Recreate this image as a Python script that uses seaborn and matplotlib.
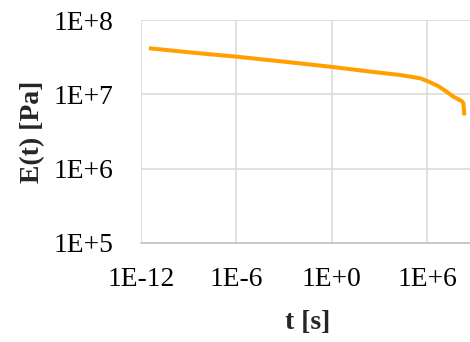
import numpy as np
import pandas as pd
import matplotlib
matplotlib.use("Agg")
import matplotlib.pyplot as plt
import seaborn as sns
from matplotlib.ticker import FixedLocator

# Relaxation modulus E(t) vs time
log_t = [-11.5, -9.0, -6.0, -3.0, 0.0, 2.42, 4.3, 5.57, 6.0, 6.69, 7.23, 7.64, 8.17, 8.27, 8.33]
modulus = [4.17e7, 3.68e7, 3.21e7, 2.75e7, 2.34e7, 2.02e7, 1.82e7, 1.64e7, 1.51e7,
           1.29e7, 1.08e7, 9.3e6, 8.1e6, 7.6e6, 5.2e6]
x_ticks = [1e-12, 1e-6, 1e0, 1e6]
x_tick_labels = ["1E-12", "1E-6", "1E+0", "1E+6"]
y_ticks = [1e5, 1e6, 1e7, 1e8]
y_tick_labels = ["1E+5", "1E+6", "1E+7", "1E+8"]

df = pd.DataFrame({"t": np.power(10.0, log_t), "E": modulus})

sns.set_theme(style="white")
plt.rcParams["font.family"] = ["Liberation Serif", "DejaVu Serif"]

fig = plt.figure(figsize=(4.70, 3.42), dpi=100)
W, H = 470, 342
left, right, top, bottom = 141, 475, 20, 243
ax = fig.add_axes([left / W, 1 - bottom / H, (right - left) / W, (bottom - top) / H])

sns.lineplot(data=df, x="t", y="E", ax=ax, color="#FFA000", linewidth=2.9,
             solid_capstyle="butt", solid_joinstyle="round")

ax.set_xscale("log")
ax.set_yscale("log")
ax.set_xlim(1e-12, 1e9)
ax.set_ylim(1e5, 1e8)

ax.xaxis.set_major_locator(FixedLocator(x_ticks))
ax.xaxis.set_minor_locator(FixedLocator([]))
ax.yaxis.set_major_locator(FixedLocator(y_ticks))
ax.yaxis.set_minor_locator(FixedLocator([]))
ax.set_xticklabels(x_tick_labels)
ax.set_yticklabels(y_tick_labels)

ax.grid(True, which="major", color="#D9D9D9", linewidth=1.1)
ax.set_axisbelow(True)
for side in ["top", "right", "left"]:
    ax.spines[side].set_visible(False)
ax.spines["bottom"].set_color("#BFBFBF")
ax.spines["bottom"].set_linewidth(1.1)

ax.tick_params(axis="both", length=0, labelsize=19.8, colors="black")
ax.tick_params(axis="x", pad=17)
ax.tick_params(axis="y", pad=20)

ax.set_xlabel("t [s]", fontsize=20, fontweight="bold", labelpad=13)
ax.set_ylabel("E(t) [Pa]", fontsize=20, fontweight="bold", labelpad=6)

fig.savefig("out.png", dpi=100)
